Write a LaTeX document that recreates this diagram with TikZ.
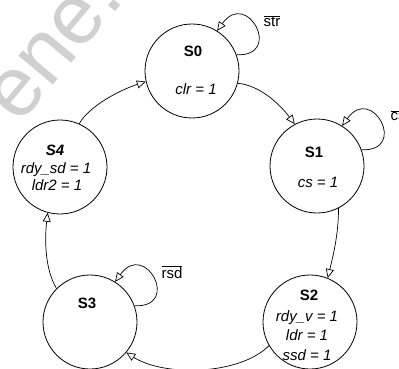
\documentclass[tikz,border=0pt]{standalone}
\usepackage{fontspec}
\setmainfont{Liberation Sans}
\usetikzlibrary{arrows.meta}
\definecolor{wmgray}{RGB}{208,208,208}
\newcommand\negsig[1]{$\overline{\mbox{#1}}$}
\begin{document}
\begin{tikzpicture}[x=1pt,y=-1pt,
  every node/.style={font=\fontsize{15}{19}\selectfont},
  state/.style={circle,draw,line width=0.8pt,minimum size=94pt,inner sep=0pt},
  sname/.style={anchor=base,font=\fontsize{15}{19}\selectfont\bfseries},
  sout/.style={anchor=base,font=\fontsize{15}{19}\selectfont\itshape},
  cond/.style={anchor=base},
  trans/.style={line width=0.7pt,-{Triangle[length=9pt,width=8pt,fill=white,line width=0.7pt]}}]
\useasboundingbox (0,0) rectangle (399,369);

% background watermark
\node[text=wmgray,font=\fontsize{85}{85}\selectfont,rotate=50,anchor=base west,inner sep=0pt] (wm) at (19,126) {ene.};

% states
\node[state] (S0) at (192,71) {};
\node[state] (S1) at (317,166) {};
\node[state] (S2) at (310,322) {};
\node[state] (S3) at (90,322) {};
\node[state] (S4) at (60,167) {};

% state names and outputs
\node[sname] (n0) at (193,57) {S0};
\node[sout] (o0) at (196,95) {clr = 1};
\node[sname] (n1) at (314,157) {S1};
\node[sout] (o1) at (318,187) {cs = 1};
\node[sname] (n2) at (309,300) {S2};
\node[sout] (o2a) at (307,321) {rdy\_v = 1};
\node[sout] (o2b) at (307,340) {ldr = 1};
\node[sout] (o2c) at (307,360) {ssd = 1};
\node[sname] (n3) at (87,308) {S3};
\node[sname,font=\fontsize{15}{19}\selectfont\bfseries\itshape] (n4) at (55,155) {S4};
\node[sout] (o4a) at (56,173) {rdy\_sd = 1};
\node[sout] (o4b) at (57,190) {ldr2 = 1};

% self loops
\draw[trans] (S0.20) .. controls +(47,2) and +(30,-42) .. (S0.58);
\draw[trans] (S1.20) .. controls +(47,2) and +(30,-42) .. (S1.58);
\draw[trans] (S3.20) .. controls +(47,2) and +(30,-42) .. (S3.58);
\node[cond] (c0) at (272,27) {\negsig{str}};
\node[cond,anchor=base west] (c1) at (387,121) {\negsig{cs}};
\node[cond] (c3) at (172,278) {\negsig{rsd}};

% transitions around the ring
\draw[trans] (S0.-15) .. controls +(22,2) and +(-15,-20) .. (S1.118);
\draw[trans] (S1.-63) .. controls +(0,25) and +(6,-25) .. (S2.68);
\draw[trans] (S2.210) .. controls +(-30,30) and +(37,24) .. (S3.-40);
\draw[trans] (S3.135) .. controls +(-12,-20) and +(-3,25) .. (S4.-105);
\draw[trans] (S4.66) .. controls +(10,-18) and +(-25,8) .. (S0.193);
\end{tikzpicture}
\end{document}
